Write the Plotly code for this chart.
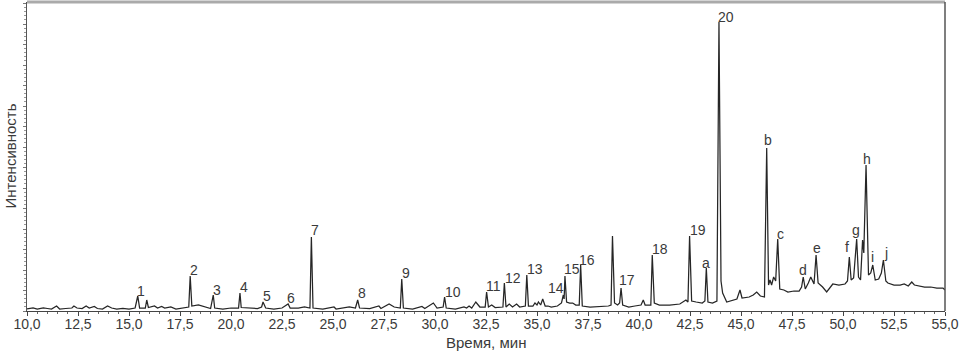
import plotly.graph_objects as go

# Retention time (min) and detector intensity (arbitrary units)
time_min = [
    10.0, 10.3, 10.5, 10.8, 11.0, 11.2, 11.45, 11.6, 11.9, 12.2, 12.3, 12.45, 12.7, 12.9, 13.05,
    13.3, 13.45, 13.7, 13.95, 14.15, 14.4, 14.7, 15.0, 15.3, 15.43, 15.52, 15.8, 15.87, 15.95,
    16.25, 16.4, 16.6, 16.75, 17.05, 17.3, 17.7, 17.93, 18.0, 18.08, 18.4, 18.7, 19.0, 19.13,
    19.2, 19.6, 20.0, 20.37, 20.44, 20.5, 20.9, 21.3, 21.5, 21.57, 21.7, 22.1, 22.5, 22.8, 22.9,
    23.3, 23.6, 23.87, 23.94, 24.02, 24.5, 25.05, 25.15, 25.5, 25.8, 26.1, 26.21, 26.3, 26.8,
    27.25, 27.35, 27.75, 28.0, 28.3, 28.37, 28.45, 28.9, 29.36, 29.5, 29.92, 30.1, 30.4, 30.47,
    30.55, 31.0, 31.42, 31.55, 31.67, 31.8, 32.0, 32.2, 32.46, 32.53, 32.62, 32.78, 32.95, 33.33,
    33.4, 33.48, 33.64, 33.8, 34.0, 34.15, 34.43, 34.5, 34.58, 34.8, 34.9, 35.0, 35.07, 35.18,
    35.28, 35.4, 35.54, 35.7, 36.0, 36.2, 36.29, 36.33, 36.37, 36.45, 36.6, 36.75, 36.9, 37.07,
    37.14, 37.22, 37.6, 38.0, 38.5, 38.63, 38.70, 38.8, 38.95, 39.05, 39.12, 39.2, 39.5, 39.8,
    40.1, 40.21, 40.3, 40.58, 40.65, 40.75, 41.0, 41.5, 42.0, 42.3, 42.4, 42.48, 42.58, 42.8,
    43.1, 43.23, 43.3, 43.38, 43.6, 43.82, 43.92, 44.02, 44.1, 44.3, 44.6, 44.8, 44.95, 45.05,
    45.4, 45.6, 45.77, 45.95, 46.15, 46.26, 46.35, 46.42, 46.5, 46.6, 46.7, 46.8, 46.9, 47.1,
    47.3, 47.6, 47.85, 47.97, 48.05, 48.15, 48.3, 48.42, 48.58, 48.68, 48.78, 49.0, 49.2, 49.5,
    49.8, 50.1, 50.22, 50.31, 50.4, 50.52, 50.67, 50.76, 50.86, 50.96, 51.02, 51.13, 51.25,
    51.36, 51.46, 51.58, 51.75, 51.88, 51.98, 52.1, 52.2, 52.5, 52.8, 53.0, 53.2, 53.37, 53.5,
    53.8, 54.0, 54.3, 54.6, 54.9, 55.0,
]
intensity = [
    2, 3, 2, 3, 2.5, 2, 5, 2, 2.5, 3, 5, 3, 2.5, 5, 3,
    4.5, 2.5, 2, 5, 3, 2, 2.5, 2, 3, 15, 3, 3, 11, 3.5,
    5, 3, 4.5, 3, 4, 2, 3, 4, 35, 5, 6, 4, 2.5, 16,
    3, 2, 3, 3, 18, 3.5, 3, 2.5, 4, 9, 3, 2, 3, 7, 3,
    3, 4, 3, 74, 3, 2, 4, 2, 3, 4, 3, 11, 3, 2.5,
    5, 2.5, 7, 4, 3, 32, 3, 2, 4.5, 2.5, 8, 3, 4, 14,
    3, 2, 4, 3, 5, 3, 9, 4, 4, 19, 4, 6, 3.5, 4,
    28, 4, 7, 4, 7, 4, 5, 36, 5, 5, 8, 6, 9, 6,
    12, 5, 5, 4, 5, 8, 16, 12, 35, 9, 8, 8, 6, 6,
    46, 5, 4, 4.5, 5, 6, 75, 8, 6, 8, 23, 6, 4, 5,
    6, 11, 6, 6, 56, 8, 6, 6, 7, 11, 9, 75, 10, 9,
    8, 10, 43, 9, 8, 10, 289, 30, 18, 9, 11, 12, 21, 13,
    14, 16, 19, 15, 14, 163, 26, 31, 26, 34, 30, 72, 22, 21,
    19, 20, 20, 24, 34, 22, 28, 34, 27, 56, 28, 24, 19, 27,
    26, 27, 30, 54, 31, 33, 72, 34, 31, 71, 58, 146, 36,
    38, 46, 31, 32, 38, 51, 30, 28, 26, 26, 27, 25, 29, 26,
    25, 24, 24, 23, 23, 21,
]

# Peak labels: name, retention time, apex intensity
peak_names = ["1", "2", "3", "4", "5", "6", "7", "8", "9", "10", "11", "12", "13", "14", "15",
              "16", "17", "18", "19", "a", "20", "b", "c", "d", "e", "f", "g", "h", "i", "j"]
peak_times = [15.43, 18.0, 19.13, 20.44, 21.57, 22.8, 23.94, 26.21, 28.37, 30.47, 32.53, 33.4,
              34.5, 36.29, 36.37, 37.14, 39.12, 40.65, 42.48, 43.3, 43.92, 46.26, 46.8, 48.05,
              48.68, 50.31, 50.67, 51.13, 51.46, 51.98]
peak_heights = [15, 35, 16, 18, 9, 7, 74, 11, 32, 14, 19, 28, 36, 16, 35, 46, 23, 56, 75, 43,
                289, 163, 72, 34, 56, 54, 72, 146, 46, 51]

tick_values = [10.0, 12.5, 15.0, 17.5, 20.0, 22.5, 25.0, 27.5, 30.0, 32.5, 35.0, 37.5, 40.0,
               42.5, 45.0, 47.5, 50.0, 52.5, 55.0]
tick_labels = ["10,0", "12,5", "15,0", "17,5", "20,0", "22,5", "25,0", "27,5", "30,0", "32,5",
               "35,0", "37,5", "40,0", "42,5", "45,0", "47,5", "50,0", "52,5", "55,0"]

x_title = "Время, мин"
y_title = "Интенсивность"

# label offsets from the peak apex, in pixels (right, up)
label_dx = [3, 4, 4, 4, 4, 3, 4, 4, 4, 8.5, 6.5, 8.5, 7.7, -7, 7, 6, 5.5, 7.7, 8, 0, 7.5,
            1, 3, 0, 0.7, -2.6, -1, 1, 0, 2.7]
label_dy = [4.5, 5, 4.5, 5, 5.5, 5, 6, 6, 5.5, 4.5, 5, 4, 5, 6.5, 6, 4.5, 7, 5.5, 5, 4.5, 4,
            7, 4, 6, 6, 9, 7.6, 5, 7, 6.5]

FONT = "Liberation Sans, Arial, sans-serif"
TXT = "#3a3a3a"
ML, MR, MT, MB = 27, 16, 2, 44
W, H = 961, 355
PW, PH = W - ML - MR, H - MT - MB

fig = go.Figure()
fig.add_trace(go.Scatter(
    x=time_min, y=intensity, mode="lines",
    line=dict(color="#262626", width=1.25), hoverinfo="skip", showlegend=False,
))

for name, t, h, dx, dy in zip(peak_names, peak_times, peak_heights, label_dx, label_dy):
    fig.add_annotation(
        x=t, y=h, text=name, showarrow=False, xref="x", yref="y",
        xanchor="center", yanchor="middle", xshift=dx, yshift=dy + 1,
        font=dict(family=FONT, size=14, color=TXT),
    )

# axis titles
fig.add_annotation(
    x=0.5, y=-(342 - (MT + PH)) / PH, xref="paper", yref="paper", text=x_title,
    showarrow=False, xanchor="center", yanchor="middle",
    font=dict(family=FONT, size=15, color=TXT),
)
fig.add_annotation(
    x=-(ML - 10) / PW, y=0.5, xref="paper", yref="paper", text=y_title, textangle=-90,
    showarrow=False, xanchor="center", yanchor="middle",
    font=dict(family=FONT, size=15, color=TXT),
)

fig.update_layout(
    width=W, height=H,
    margin=dict(l=ML, r=MR, t=MT, b=MB),
    paper_bgcolor="white", plot_bgcolor="white",
    font=dict(family=FONT, size=14, color=TXT),
    xaxis=dict(
        range=[10, 55], tickvals=tick_values, ticktext=tick_labels, automargin=False,
        showgrid=False, zeroline=False, showline=True, linecolor="#444", linewidth=1.2,
        ticks="outside", ticklen=4, tickcolor="#444", ticklabelstandoff=-4,
        minor=dict(dtick=0.5, tick0=10, ticks="outside", ticklen=2, tickcolor="#666"),
        tickfont=dict(family=FONT, size=14, color=TXT),
    ),
    yaxis=dict(
        range=[0, 309], showticklabels=False, showgrid=False, zeroline=False, automargin=False,
        showline=True, linecolor="#555", linewidth=1.2,
        ticks="outside", ticklen=3, tickcolor="#777", tick0=0, dtick=20.5,
        minor=dict(dtick=4.1, tick0=0, ticks="outside", ticklen=2, tickcolor="#999"),
    ),
    shapes=[
        dict(type="line", xref="paper", yref="paper", x0=0, x1=1, y0=1, y1=1,
             line=dict(color="#aaaaaa", width=3)),
        dict(type="line", xref="paper", yref="paper", x0=1, x1=1, y0=0, y1=1,
             line=dict(color="#555555", width=1.5)),
    ],
)

fig.write_html(
    "out.html",
    config={"displayModeBar": False},
    post_script="document.body.style.margin='0';document.body.style.padding='0';",
)
